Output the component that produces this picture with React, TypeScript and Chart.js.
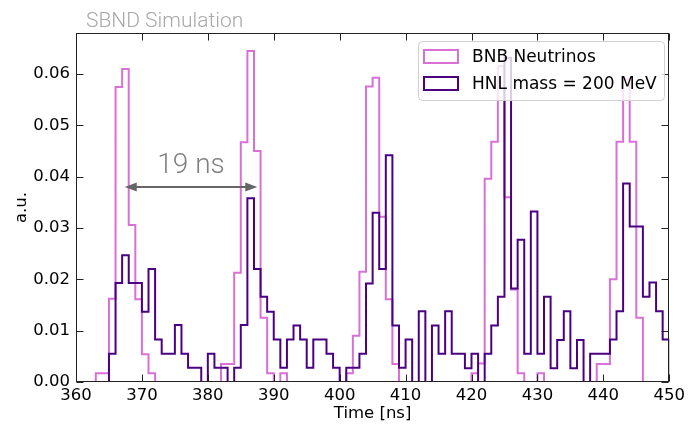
import React, { useEffect, useRef } from 'react';
import { Chart, registerables } from 'chart.js';

Chart.register(...registerables);

// ---- data ----
const binStart = 360;
const binWidth = 1;

const bnbValues = [
  0, 0, 0, 0.0017, 0.0017, 0.0162, 0.0575, 0.061, 0.0306, 0.0161,
  0.0054, 0.0017, 0, 0, 0, 0, 0, 0, 0, 0,
  0, 0, 0.0035, 0.0035, 0.0213, 0.0467, 0.0645, 0.045, 0.0125, 0.0017,
  0, 0.0017, 0, 0, 0, 0, 0, 0, 0, 0,
  0, 0.0017, 0.009, 0.0215, 0.0576, 0.0593, 0.0322, 0.0161, 0.0035, 0,
  0, 0, 0, 0, 0, 0, 0, 0, 0, 0,
  0.0017, 0.0036, 0.0396, 0.0468, 0.0615, 0.036, 0.018, 0.0017, 0, 0,
  0.0017, 0, 0, 0, 0, 0, 0, 0, 0, 0.0035,
  0.0035, 0.02, 0.0468, 0.059, 0.0468, 0.0125, 0, 0, 0, 0,
];

const hnlValues = [
  0, 0, 0, 0, 0, 0.0055, 0.0193, 0.0247, 0.0193, 0.0193,
  0.0137, 0.022, 0.0083, 0.0055, 0.0055, 0.0111, 0.0055, 0.0028, 0.0028, 0,
  0.0055, 0.0028, 0.0028, 0, 0.0028, 0.0111, 0.0358, 0.022, 0.0166, 0.0137,
  0.0083, 0.0028, 0.0083, 0.011, 0.0083, 0.0028, 0.0083, 0.0083, 0.0055, 0.0028,
  0, 0.0028, 0.0028, 0.0055, 0.0192, 0.033, 0.022, 0.0442, 0.011, 0.0028,
  0.0083, 0, 0.0138, 0, 0.011, 0.0055, 0.0138, 0.0055, 0.0055, 0.0027,
  0.0055, 0, 0.0055, 0.011, 0.0166, 0.0632, 0.0182, 0.0277, 0.0055, 0.0332,
  0.0055, 0.0166, 0.0027, 0.0082, 0.0138, 0.0027, 0.0082, 0, 0.0055, 0.0055,
  0.0055, 0.0083, 0.0138, 0.0387, 0.0303, 0.0303, 0.0166, 0.0194, 0.0138, 0.0083,
];

const xTickValues = [360, 370, 380, 390, 400, 410, 420, 430, 440, 450];
const yTickValues = [0, 0.01, 0.02, 0.03, 0.04, 0.05, 0.06];
const xMin = 360;
const xMax = 450;
const yMin = 0;
const yMax = 0.068;

const seriesLabels = ['BNB Neutrinos', 'HNL mass = 200 MeV'];
const seriesColors = ['#da70d6', '#4b0082'];

const arrowFrom = 367.4;
const arrowTo = 387.5;
const arrowLevel = 0.038;
const arrowLabel = '19 ns';
const headerText = 'SBND Simulation';
const xTitle = 'Time [ns]';
const yTitle = 'a.u.';

function toStepPoints(values: number[]) {
  const pts: { x: number; y: number }[] = [{ x: binStart, y: 0 }];
  values.forEach((v, i) => pts.push({ x: binStart + i * binWidth, y: v }));
  pts.push({ x: binStart + values.length * binWidth, y: 0 });
  return pts;
}

const TICK_FONT = 'DejaVu Sans';

const decorPlugin = {
  id: 'decor',
  afterDraw(chart: any) {
    const { ctx, chartArea: a, scales } = chart;
    const xs = scales.x;
    const ys = scales.y;
    const L = Math.round(a.left) + 0.5;
    const R = Math.round(a.right) - 0.5;
    const T = Math.round(a.top) + 0.5;
    const B = Math.round(a.bottom) - 0.5;
    ctx.save();

    // frame
    ctx.strokeStyle = '#222';
    ctx.lineWidth = 1;
    ctx.strokeRect(L, T, R - L, B - T);

    // inward ticks on all four sides
    ctx.beginPath();
    xTickValues.forEach((v) => {
      const px = Math.round(xs.getPixelForValue(v)) + 0.5;
      ctx.moveTo(px, B);
      ctx.lineTo(px, B - 7);
      ctx.moveTo(px, T);
      ctx.lineTo(px, T + 7);
    });
    yTickValues.forEach((v) => {
      const py = Math.round(ys.getPixelForValue(v)) + 0.5;
      ctx.moveTo(L, py);
      ctx.lineTo(L + 7, py);
      ctx.moveTo(R, py);
      ctx.lineTo(R - 7, py);
    });
    ctx.stroke();

    // header
    ctx.fillStyle = '#a8a8a8';
    ctx.font = '300 21px Roboto';
    ctx.textAlign = 'left';
    ctx.textBaseline = 'alphabetic';
    ctx.fillText(headerText, 86, 27);

    // axis titles
    ctx.fillStyle = '#000';
    ctx.font = `16.5px "${TICK_FONT}"`;
    ctx.textAlign = 'center';
    ctx.textBaseline = 'middle';
    ctx.fillText(xTitle, (a.left + a.right) / 2, 414);
    ctx.save();
    ctx.translate(22, (a.top + a.bottom) / 2);
    ctx.rotate(-Math.PI / 2);
    ctx.fillText(yTitle, 0, 0);
    ctx.restore();

    // arrow annotation
    const x1 = xs.getPixelForValue(arrowFrom);
    const x2 = xs.getPixelForValue(arrowTo);
    const ay = ys.getPixelForValue(arrowLevel);
    ctx.strokeStyle = '#666';
    ctx.fillStyle = '#666';
    ctx.lineWidth = 2;
    ctx.beginPath();
    ctx.moveTo(x1 + 8, ay);
    ctx.lineTo(x2 - 8, ay);
    ctx.stroke();
    const head = (tipX: number, dir: number) => {
      ctx.beginPath();
      ctx.moveTo(tipX, ay);
      ctx.lineTo(tipX - dir * 12, ay - 4.5);
      ctx.lineTo(tipX - dir * 12, ay + 4.5);
      ctx.closePath();
      ctx.fill();
    };
    head(x1, -1);
    head(x2, 1);
    ctx.fillStyle = '#808080';
    ctx.font = '300 28px Roboto';
    ctx.textAlign = 'center';
    ctx.textBaseline = 'alphabetic';
    ctx.fillText(arrowLabel, (x1 + x2) / 2, ay - 13.5);

    // legend
    const bx = 418.5, by = 41.5, bw = 246, bh = 59, r = 4;
    ctx.beginPath();
    ctx.moveTo(bx + r, by);
    ctx.lineTo(bx + bw - r, by);
    ctx.arcTo(bx + bw, by, bx + bw, by + r, r);
    ctx.lineTo(bx + bw, by + bh - r);
    ctx.arcTo(bx + bw, by + bh, bx + bw - r, by + bh, r);
    ctx.lineTo(bx + r, by + bh);
    ctx.arcTo(bx, by + bh, bx, by + bh - r, r);
    ctx.lineTo(bx, by + r);
    ctx.arcTo(bx, by, bx + r, by, r);
    ctx.closePath();
    ctx.fillStyle = 'rgba(255,255,255,0.8)';
    ctx.fill();
    ctx.strokeStyle = '#d0d0d0';
    ctx.lineWidth = 1;
    ctx.stroke();

    const rows = [56.5, 83.5];
    ctx.font = `17px "${TICK_FONT}"`;
    ctx.textAlign = 'left';
    ctx.textBaseline = 'middle';
    seriesLabels.forEach((lab, i) => {
      ctx.strokeStyle = seriesColors[i];
      ctx.lineWidth = 2;
      ctx.strokeRect(424, rows[i] - 6.5, 34, 13);
      ctx.fillStyle = '#000';
      ctx.fillText(lab, 472, rows[i] + 1);
    });

    ctx.restore();
  },
};

export default function App() {
  const ref = useRef<HTMLCanvasElement | null>(null);

  useEffect(() => {
    document.body.style.margin = '0';
    const canvas = ref.current;
    if (!canvas) return;
    const chart = new Chart(canvas, {
      type: 'line',
      data: {
        datasets: [
          {
            label: seriesLabels[1],
            data: toStepPoints(hnlValues),
            borderColor: seriesColors[1],
            borderWidth: 2,
            stepped: true,
            pointRadius: 0,
            fill: false,
            order: 1,
          },
          {
            label: seriesLabels[0],
            data: toStepPoints(bnbValues),
            borderColor: seriesColors[0],
            borderWidth: 2,
            stepped: true,
            pointRadius: 0,
            fill: false,
            order: 2,
          },
        ],
      },
      options: {
        responsive: false,
        animation: false,
        events: [],
        layout: { padding: { top: 33, right: 17, left: 0, bottom: 0 } },
        plugins: {
          legend: { display: false },
          title: { display: false },
          tooltip: { enabled: false },
        },
        scales: {
          x: {
            type: 'linear',
            min: xMin,
            max: xMax,
            grid: { display: false, drawTicks: false },
            border: { display: false },
            ticks: {
              padding: 4,
              maxRotation: 0,
              autoSkip: false,
              color: '#000',
              font: { family: TICK_FONT, size: 16.5 },
              callback: (v: any) => String(v),
            },
            afterBuildTicks: (s: any) => {
              s.ticks = xTickValues.map((v) => ({ value: v }));
            },
            afterFit: (s: any) => {
              s.height = 42;
            },
          },
          y: {
            type: 'linear',
            min: yMin,
            max: yMax,
            grid: { display: false, drawTicks: false },
            border: { display: false },
            ticks: {
              padding: 6,
              autoSkip: false,
              color: '#000',
              font: { family: TICK_FONT, size: 16.5 },
              callback: (v: any) => Number(v).toFixed(2),
            },
            afterBuildTicks: (s: any) => {
              s.ticks = yTickValues.map((v) => ({ value: v }));
            },
            afterFit: (s: any) => {
              s.width = 76;
            },
          },
        },
      },
      plugins: [decorPlugin],
    } as any);
    return () => chart.destroy();
  }, []);

  return <canvas ref={ref} width={689} height={424} style={{ display: 'block' }} />;
}
